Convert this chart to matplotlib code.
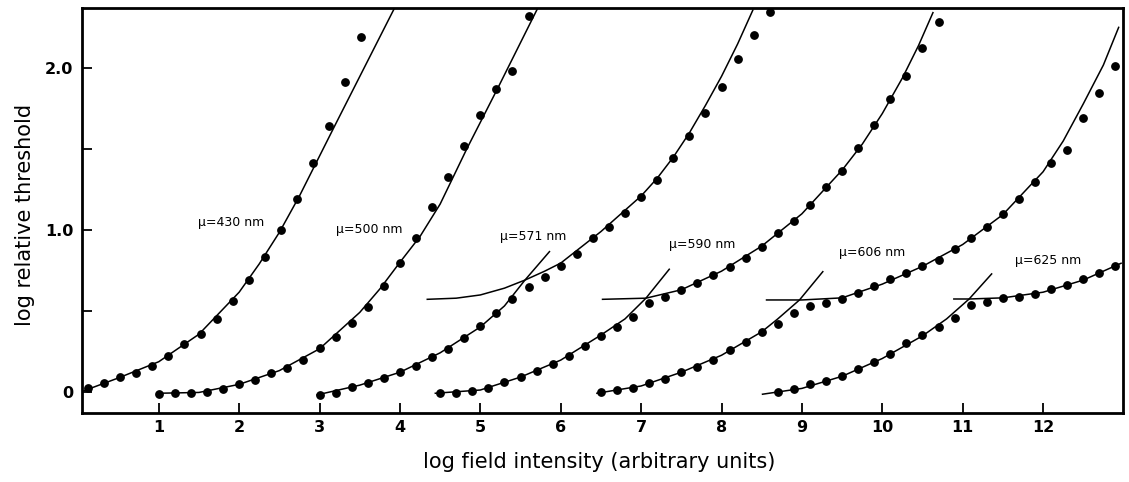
import numpy as np
import matplotlib
matplotlib.use('Agg')
import matplotlib.pyplot as plt

# threshold points: each run starts at x0 and steps 0.2 log units
STEP = 0.2
x0_430, y430 = 0.12, [0.025, 0.056, 0.089, 0.118, 0.161, 0.223, 0.295, 0.359, 0.448, 0.561,
                      0.691, 0.831, 1.0, 1.194, 1.416, 1.643, 1.915, 2.195]
x0_500, y500 = 1.0, [-0.014, -0.01, -0.01, -0.002, 0.019, 0.048, 0.071, 0.114, 0.145, 0.198,
                     0.268, 0.34, 0.423, 0.526, 0.654, 0.798, 0.952, 1.144, 1.326, 1.521,
                     1.711, 1.872, 1.985, 2.325]
x0_571, y571 = 3.0, [-0.02, -0.006, 0.031, 0.052, 0.083, 0.12, 0.159, 0.216, 0.264, 0.33,
                     0.408, 0.489, 0.573, 0.646, 0.711, 0.779, 0.852, 0.95, 1.02, 1.105,
                     1.206, 1.309, 1.442, 1.584, 1.722, 1.882, 2.056, 2.206, 2.35]
x0_590, y590 = 4.5, [-0.01, -0.01, 0.006, 0.025, 0.062, 0.093, 0.128, 0.169, 0.223, 0.284,
                     0.344, 0.402, 0.464, 0.547, 0.588, 0.629, 0.670, 0.722, 0.773, 0.829,
                     0.897, 0.98, 1.058, 1.155, 1.264, 1.367, 1.505, 1.649, 1.808, 1.952,
                     2.124, 2.286]
x0_606, y606 = 6.5, [-0.004, 0.011, 0.025, 0.052, 0.079, 0.12, 0.155, 0.196, 0.258, 0.309,
                     0.371, 0.419, 0.485, 0.53, 0.547, 0.573, 0.612, 0.654, 0.697, 0.736,
                     0.777, 0.814, 0.881, 0.949, 1.02, 1.099, 1.19, 1.299, 1.412, 1.495,
                     1.691, 1.849, 2.014]
x0_625, y625 = 8.7, [0.0, 0.015, 0.046, 0.068, 0.099, 0.139, 0.182, 0.233, 0.299, 0.351,
                     0.402, 0.454, 0.536, 0.557, 0.581, 0.588, 0.602, 0.635, 0.66, 0.697,
                     0.732, 0.779]

# fitted curves (x, y nodes); lower = rod branch, upper = cone branch
fit_430 = ([0.04, 0.5, 1.0, 1.5, 2.0, 2.25, 2.5, 2.75, 3.2, 3.93],
           [0.0, 0.085, 0.185, 0.355, 0.615, 0.79, 0.985, 1.21, 1.655, 2.37])
fit_500 = ([1.0, 1.5, 2.0, 2.5, 3.0, 3.5, 3.75, 4.0, 4.25, 4.5, 4.83, 5.22, 5.72],
           [-0.01, -0.005, 0.045, 0.13, 0.265, 0.49, 0.635, 0.80, 0.96, 1.16, 1.50, 1.88, 2.378])
fit_571_lo = ([2.97, 3.5, 4.0, 4.5, 5.0, 5.3, 5.555, 5.86],
              [-0.02, 0.04, 0.12, 0.24, 0.40, 0.53, 0.69, 0.866])
fit_571_hi = ([4.34, 4.7, 5.0, 5.3, 5.555, 5.8, 6.0, 6.5, 7.0, 7.2, 7.4, 7.6, 7.8, 8.0, 8.2, 8.39],
              [0.571, 0.578, 0.598, 0.64, 0.69, 0.745, 0.795, 0.99, 1.21, 1.32, 1.45, 1.60, 1.77, 1.95,
               2.15, 2.36])
fit_590_lo = ([4.44, 5.0, 5.5, 6.0, 6.5, 6.8, 7.06, 7.35],
              [-0.01, 0.01, 0.09, 0.195, 0.35, 0.45, 0.578, 0.757])
fit_590_hi = ([6.52, 7.06, 7.5, 8.0, 8.5, 9.0, 9.5, 9.75, 10.0, 10.25, 10.45, 10.63],
              [0.571, 0.578, 0.63, 0.745, 0.90, 1.10, 1.37, 1.53, 1.72, 1.94, 2.14, 2.344])
fit_606_lo = ([6.45, 7.0, 7.5, 8.0, 8.5, 8.7, 8.97, 9.26],
              [-0.01, 0.035, 0.12, 0.225, 0.37, 0.45, 0.567, 0.742])
fit_606_hi = ([8.56, 9.0, 9.5, 10.0, 10.5, 11.0, 11.5, 12.0, 12.25, 12.5, 12.75, 12.94],
              [0.567, 0.567, 0.58, 0.665, 0.775, 0.91, 1.095, 1.36, 1.55, 1.78, 2.02, 2.253])
fit_625_lo = ([8.51, 9.0, 9.5, 10.0, 10.5, 10.8, 11.08, 11.36],
              [-0.016, 0.02, 0.095, 0.205, 0.345, 0.45, 0.573, 0.728])
fit_625_hi = ([10.89, 11.08, 11.5, 12.0, 12.5, 12.97],
              [0.573, 0.573, 0.58, 0.615, 0.69, 0.794])

labels = ['μ=430 nm', 'μ=500 nm', 'μ=571 nm', 'μ=590 nm', 'μ=606 nm', 'μ=625 nm']
label_xy = [(1.49, 1.045), (3.21, 1.004), (5.24, 0.959), (7.35, 0.907), (9.46, 0.86), (11.65, 0.81)]

fig = plt.figure(figsize=(11.29, 4.82), dpi=100)
ax = fig.add_axes([0.0724, 0.1432, 0.922, 0.8396])

for fx, fy in [fit_430, fit_500, fit_571_lo, fit_571_hi, fit_590_lo, fit_590_hi,
               fit_606_lo, fit_606_hi, fit_625_lo, fit_625_hi]:
    ax.plot(fx, fy, color='black', lw=1.1)

for x0, ys in [(x0_430, y430), (x0_500, y500), (x0_571, y571),
               (x0_590, y590), (x0_606, y606), (x0_625, y625)]:
    xs = x0 + STEP * np.arange(len(ys))
    ax.plot(xs, ys, 'o', color='black', ms=5.3, mec='black')

for lab, (lx, ly) in zip(labels, label_xy):
    ax.text(lx, ly, lab, fontsize=9, ha='left', va='center')

ax.set_xlim(0.042, 12.99)
ax.set_ylim(-0.132, 2.371)
ax.set_xticks(range(1, 13))
ax.set_yticks([0, 0.5, 1.0, 1.5, 2.0])
ax.set_yticklabels(['0', '', '1.0', '', '2.0'])
ax.tick_params(direction='in', length=7, width=1.3, labelsize=11.5)
ax.tick_params(axis='x', pad=5)
ax.tick_params(axis='y', pad=6)
for lbl in ax.get_xticklabels() + ax.get_yticklabels():
    lbl.set_fontweight('bold')
for sp in ax.spines.values():
    sp.set_linewidth(2)

fig.text(0.531, 0.042, 'log field intensity (arbitrary units)', fontsize=15,
         ha='center', va='center')
fig.text(0.022, 0.554, 'log relative threshold', fontsize=15, rotation=90,
         ha='center', va='center')

fig.savefig('out.png', dpi=100)
